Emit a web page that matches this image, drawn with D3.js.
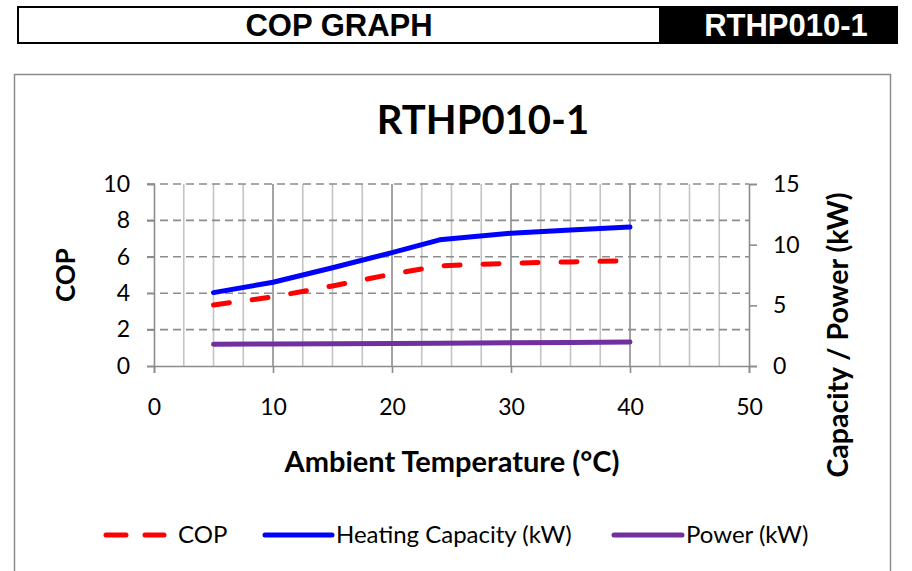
<!DOCTYPE html>
<html>
<head>
<meta charset="utf-8">
<script src="https://cdn.jsdelivr.net/npm/d3@7"></script>
<style>
  body { margin: 0; background: #fff; }
  svg { display: block; }
</style>
</head>
<body>
<script>
// data
var temps = [5, 10, 15, 20, 24, 30, 35, 40];
var cop = [3.35, 3.8, 4.4, 5.05, 5.5, 5.65, 5.72, 5.78];
var capacity = [6.05, 6.9, 8.1, 9.35, 10.4, 10.95, 11.2, 11.45];
var power = [1.80, 1.82, 1.84, 1.86, 1.88, 1.91, 1.94, 1.97];

var xTicks = [0, 10, 20, 30, 40, 50];
var leftTicks = [0, 2, 4, 6, 8, 10];
var rightTicks = [0, 5, 10, 15];

var W = 912, H = 571;
var font = "Lato, 'Open Sans', sans-serif";
var headFont = "'Liberation Sans', Arial, sans-serif";

var svg = d3.select("body").append("svg")
    .attr("width", W)
    .attr("height", H);

// header strip
svg.append("rect")
    .attr("x", 18).attr("y", 7)
    .attr("width", 642).attr("height", 36)
    .attr("fill", "#fff").attr("stroke", "#000").attr("stroke-width", 2);
svg.append("rect")
    .attr("x", 660).attr("y", 6)
    .attr("width", 238).attr("height", 38)
    .attr("fill", "#000");
svg.append("text")
    .attr("x", 339).attr("y", 36)
    .attr("text-anchor", "middle")
    .style("font-family", headFont)
    .style("font-weight", "bold").style("font-size", "31px")
    .text("COP GRAPH");
svg.append("text")
    .attr("x", 786).attr("y", 36)
    .attr("text-anchor", "middle")
    .attr("fill", "#fff")
    .style("font-family", headFont)
    .style("font-weight", "bold").style("font-size", "31px")
    .text("RTHP010-1");

// chart frame
svg.append("rect")
    .attr("x", 14.5).attr("y", 74.5)
    .attr("width", 876).attr("height", 520)
    .attr("fill", "none").attr("stroke", "#8c8c8c").attr("stroke-width", 1.5);

// scales
var x = d3.scaleLinear().domain([0, 50]).range([154, 749]);
var yL = d3.scaleLinear().domain([0, 10]).range([366, 184]);
var yR = d3.scaleLinear().domain([0, 15]).range([366, 184]);

var grid = svg.append("g");

// vertical grid every 2.5
d3.range(2.5, 50, 2.5).forEach(function(v){
    var major = v % 10 === 0;
    grid.append("line")
        .attr("x1", x(v)).attr("x2", x(v))
        .attr("y1", yL(10)).attr("y2", yL(0))
        .attr("stroke", major ? "#8c8c8c" : "#c4c4c4")
        .attr("stroke-width", 1.6);
});

// horizontal dashed grid
leftTicks.slice(1).forEach(function(v){
    grid.append("line")
        .attr("x1", x(0) - 7).attr("x2", x(50))
        .attr("y1", yL(v)).attr("y2", yL(v))
        .attr("stroke", "#8c8c8c")
        .attr("stroke-width", 1.6)
        .attr("stroke-dasharray", "8,5");
});

// axes
var axisCol = "#8c8c8c";
var bottom = svg.append("g")
    .attr("transform", "translate(0," + yL(0) + ")")
    .call(d3.axisBottom(x).tickValues(xTicks).tickSize(7).tickPadding(26));
var left = svg.append("g")
    .attr("transform", "translate(" + x(0) + ",0)")
    .call(d3.axisLeft(yL).tickValues(leftTicks).tickSize(7).tickPadding(17));
var right = svg.append("g")
    .attr("transform", "translate(" + x(50) + ",0)")
    .call(d3.axisRight(yR).tickValues(rightTicks).tickSize(8).tickPadding(16));

[bottom, left, right].forEach(function(a){
    a.select(".domain").attr("stroke", axisCol).attr("stroke-width", 1.6);
    a.selectAll(".tick line").attr("stroke", axisCol).attr("stroke-width", 1.6);
    a.selectAll(".tick text")
        .attr("fill", "#000")
        .style("font-family", font)
        .style("font-size", "23px");
});

// series
var lineL = d3.line()
    .x(function(d){ return x(d[0]); })
    .y(function(d){ return yL(d[1]); });
var lineR = d3.line()
    .x(function(d){ return x(d[0]); })
    .y(function(d){ return yR(d[1]); });

svg.append("path")
    .datum(d3.zip(temps, power))
    .attr("d", lineR)
    .attr("fill", "none").attr("stroke", "#7030A0")
    .attr("stroke-width", 5).attr("stroke-linecap", "round");

svg.append("path")
    .datum(d3.zip(temps, capacity))
    .attr("d", lineR)
    .attr("fill", "none").attr("stroke", "#0000FF")
    .attr("stroke-width", 5).attr("stroke-linecap", "round")
    .attr("stroke-linejoin", "round");

svg.append("path")
    .datum(d3.zip(temps, cop))
    .attr("d", lineL)
    .attr("fill", "none").attr("stroke", "#FF0000")
    .attr("stroke-width", 5).attr("stroke-linecap", "round")
    .attr("stroke-dasharray", "16,23");

// titles
svg.append("text")
    .attr("x", 483).attr("y", 134)
    .attr("text-anchor", "middle")
    .style("font-family", font).style("font-weight", "bold").style("font-size", "40px")
    .text("RTHP010-1");

svg.append("text")
    .attr("x", 452).attr("y", 472)
    .attr("text-anchor", "middle")
    .style("font-family", font).style("font-weight", "bold").style("font-size", "29px")
    .text("Ambient Temperature (°C)");

svg.append("text")
    .attr("transform", "translate(75,275) rotate(-90)")
    .attr("text-anchor", "middle")
    .style("font-family", font).style("font-weight", "bold").style("font-size", "26px")
    .text("COP");

svg.append("text")
    .attr("transform", "translate(848,335) rotate(-90)")
    .attr("text-anchor", "middle")
    .style("font-family", font).style("font-weight", "bold").style("font-size", "28.5px")
    .text("Capacity / Power (kW)");

// legend
var legend = [
    {name: "COP", color: "#FF0000", dash: "20,19", x0: 106, x1: 164, tx: 178},
    {name: "Heating Capacity (kW)", color: "#0000FF", dash: null, x0: 265, x1: 332, tx: 336},
    {name: "Power (kW)", color: "#7030A0", dash: null, x0: 614, x1: 682, tx: 686}
];
var lg = svg.selectAll(".lg").data(legend).enter().append("g").attr("class", "lg");
lg.append("line")
    .attr("x1", function(d){ return d.x0; })
    .attr("x2", function(d){ return d.x1; })
    .attr("y1", 535).attr("y2", 535)
    .attr("stroke", function(d){ return d.color; })
    .attr("stroke-width", 5).attr("stroke-linecap", "round")
    .attr("stroke-dasharray", function(d){ return d.dash; });
lg.append("text")
    .attr("x", function(d){ return d.tx; })
    .attr("y", 543)
    .style("font-family", font).style("font-size", "24px")
    .text(function(d){ return d.name; });
</script>
</body>
</html>
